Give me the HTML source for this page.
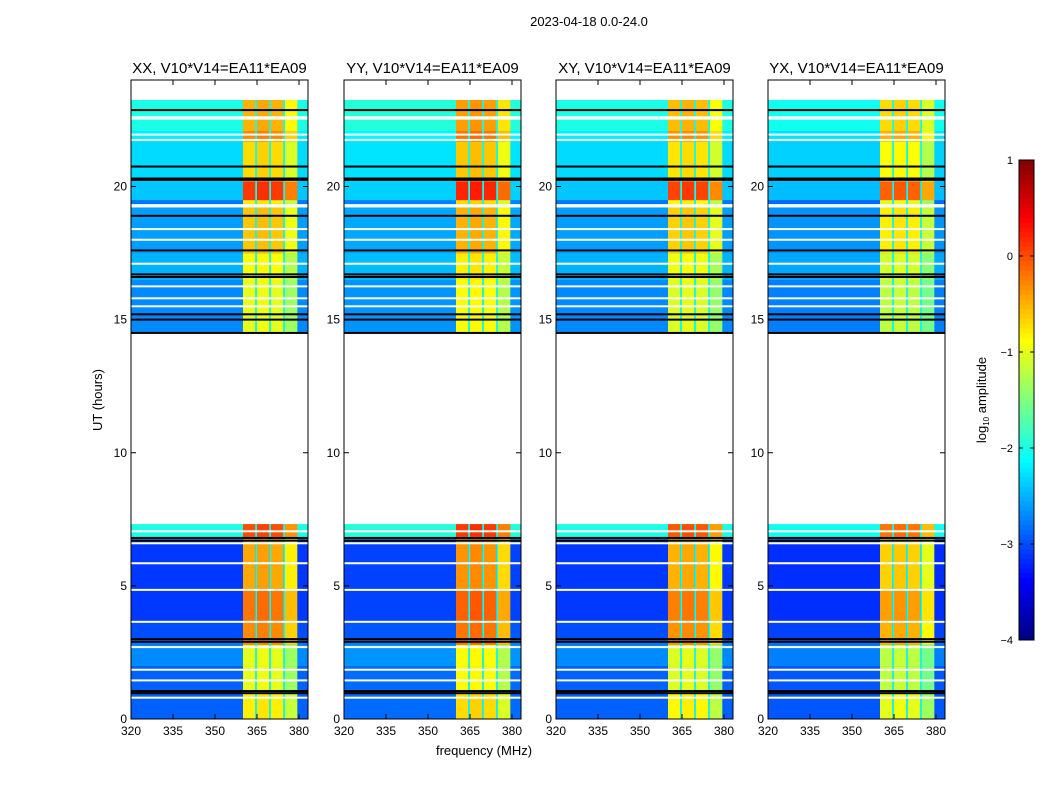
<!DOCTYPE html>
<html><head><meta charset="utf-8"><style>
html,body{margin:0;padding:0;background:#fff;}
body{width:1050px;height:800px;overflow:hidden;font-family:"Liberation Sans",sans-serif;}
</style></head>
<body>
<svg id="fig" width="1050" height="800" xmlns="http://www.w3.org/2000/svg" font-family="Liberation Sans, sans-serif">
<text x="589" y="26" font-size="13" text-anchor="middle">2023-04-18 0.0-24.0</text>
<text x="102" y="400" font-size="13" text-anchor="middle" transform="rotate(-90 102 400)">UT (hours)</text>
<text x="484" y="755" font-size="13" text-anchor="middle">frequency (MHz)</text>
<g id="panels"></g>
<g id="cbar"></g>
<text x="986" y="400" font-size="13" text-anchor="middle" transform="rotate(-90 986 400)">log<tspan font-size="8" dy="3">10</tspan><tspan dy="-3"> amplitude</tspan></text>
</svg>
<script>
// ---- data ----
const panelTitles = ["XX, V10*V14=EA11*EA09","YY, V10*V14=EA11*EA09","XY, V10*V14=EA11*EA09","YX, V10*V14=EA11*EA09"];
const panelBandOffset = [0, 0.1, -0.05, -0.2];
const panelBgOffset = [0, 0.05, 0, -0.05];
// time segments (hours)
const segStart = [0.0, 0.97, 2.0, 2.8, 3.0, 3.65, 4.85, 6.7, 6.85, 14.5, 16.5, 17.5, 19.35, 19.5, 20.2, 20.35, 21.7, 22.1];
const segEnd   = [0.97, 2.0, 2.8, 3.0, 3.65, 4.85, 6.7, 6.85, 7.32, 16.5, 17.5, 19.35, 19.5, 20.2, 20.35, 21.7, 22.1, 23.25];
const segBg    = [-2.9, -2.9, -2.7, -2.8, -3.0, -3.1, -3.1, -2.6, -2.0, -2.7, -2.5, -2.6, -2.8, -2.4, -2.4, -2.3, -2.2, -2.0];
const segBand  = [-0.8, -1.0, -1.0, -0.3, -0.3, -0.2, -0.45, -0.6, 0.0, -1.0, -0.9, -0.6, -0.8, 0.1, -0.4, -0.7, -0.3, -0.5];
// frequency columns (MHz)
const bandStart = [360.0, 365.0, 370.0, 375.0];
const bandEnd   = [364.4, 369.4, 374.4, 379.4];
const bandOffset = [0, 0.05, 0.0, -0.35];
const gapLevel = -2.1;
// flagged rows
const blackLines = [0.97, 1.05, 2.9, 3.0, 6.7, 6.8, 14.5, 15.0, 15.2, 16.6, 16.7, 17.6, 18.9, 20.25, 20.3, 20.75, 22.87];
const whiteLines = [0.8, 1.45, 1.85, 2.7, 3.65, 4.85, 5.85, 6.6, 7.05, 15.5, 15.8, 16.25, 17.1, 18.0, 18.4, 19.3, 19.25, 21.75, 21.95, 22.55, 22.6];
const xTicks = [320, 335, 350, 365, 380];
const yTicks = [0, 5, 10, 15, 20];
const cbTicks = [1, 0, -1, -2, -3, -4];

// ---- layout ----
const panelLeft = [131, 344, 556, 768];
const PW = 177, TOP = 80, BOT = 719;
const FMIN = 320, FMAX = 320 + PW / 2.8, TMIN = 0, TMAX = 24;
const VMIN = -4, VMAX = 1;
const NS = "http://www.w3.org/2000/svg";
function jet(v){
  let t = (v - VMIN) / (VMAX - VMIN); t = Math.max(0, Math.min(1, t));
  const c = x => Math.round(255 * Math.max(0, Math.min(1, x)));
  const r = c(1.5 - Math.abs(4 * t - 3)), g = c(1.5 - Math.abs(4 * t - 2)), b = c(1.5 - Math.abs(4 * t - 1));
  return `rgb(${r},${g},${b})`;
}
function el(tag, attrs, parent){ const e = document.createElementNS(NS, tag); for (const k in attrs) e.setAttribute(k, attrs[k]); parent.appendChild(e); return e; }
const panels = document.getElementById('panels');
panelLeft.forEach((L, p) => {
  const xs = f => L + (f - FMIN) / (FMAX - FMIN) * PW;
  const ys = t => BOT - (t - TMIN) / (TMAX - TMIN) * (BOT - TOP);
  const g = el('g', {}, panels);
  
  
  el('rect', {x: L, y: TOP, width: PW, height: BOT - TOP, fill: '#fff'}, g);
  for (let i = 0; i < segStart.length; i++) {
    const y0 = ys(segEnd[i]), y1 = ys(segStart[i]);
    const bg = el('rect', {x: L, y: y0, width: PW, height: y1 - y0 + 0.3, fill: jet(segBg[i] + panelBgOffset[p])}, g);
    
    
    for (let b = 0; b < bandStart.length; b++) {
      const c = el('rect', {x: xs(bandStart[b]), y: y0, width: xs(bandEnd[b]) - xs(bandStart[b]), height: y1 - y0 + 0.3, fill: jet(segBand[i] + bandOffset[b] + panelBandOffset[p])}, g);
      
      
      if (b < bandStart.length - 1) {
        const gp = el('rect', {x: xs(bandEnd[b]), y: y0, width: xs(bandStart[b+1]) - xs(bandEnd[b]), height: y1 - y0 + 0.3, fill: jet(gapLevel)}, g);
        
        
      }
    }
  }
  whiteLines.forEach(t => { const l = el('rect', {x: L, y: ys(t) - 1, width: PW, height: 2, fill: '#fff'}, g);
      });
  blackLines.forEach(t => { const l = el('rect', {x: L, y: ys(t) - 1, width: PW, height: 2, fill: '#000'}, g);
      });
  el('rect', {x: L, y: TOP, width: PW, height: BOT - TOP, fill: 'none', stroke: '#000', 'stroke-width': 1}, g);
  xTicks.forEach(f => {
    const x = xs(f);
    el('line', {x1: x, x2: x, y1: BOT, y2: BOT - 5, stroke: '#000'}, g);
    el('line', {x1: x, x2: x, y1: TOP, y2: TOP + 5, stroke: '#000'}, g);
    const t = el('text', {x: x, y: BOT + 16, 'font-size': 12, 'text-anchor': 'middle'}, g);
    t.textContent = f;
     
  });
  yTicks.forEach(v => {
    const y = ys(v);
    el('line', {x1: L, x2: L + 5, y1: y, y2: y, stroke: '#000'}, g);
    el('line', {x1: L + PW, x2: L + PW - 5, y1: y, y2: y, stroke: '#000'}, g);
    const t = el('text', {x: L - 4, y: y + 4, 'font-size': 12, 'text-anchor': 'end'}, g);
    t.textContent = v;
     
  });
  const tt = el('text', {x: L + PW / 2, y: 73, 'font-size': 15, 'text-anchor': 'middle'}, g);
  tt.textContent = panelTitles[p];
   
});
// colorbar
const cb = document.getElementById('cbar');
const CX = 1019, CW = 15, CT = 160, CB = 640;
const cys = v => CB - (v - VMIN) / (VMAX - VMIN) * (CB - CT);
for (let i = 0; i < 100; i++) {
  const v0 = VMIN + (VMAX - VMIN) * i / 100, v1 = VMIN + (VMAX - VMIN) * (i + 1) / 100;
  el('rect', {x: CX, y: cys(v1), width: CW, height: cys(v0) - cys(v1) + 0.5, fill: jet((v0 + v1) / 2)}, cb);
}
el('rect', {x: CX, y: CT, width: CW, height: CB - CT, fill: 'none', stroke: '#000'}, cb);
cbTicks.forEach(v => {
  const y = cys(v);
  el('line', {x1: CX, x2: CX + 4, y1: y, y2: y, stroke: '#000'}, cb);
  el('line', {x1: CX + CW, x2: CX + CW - 4, y1: y, y2: y, stroke: '#000'}, cb);
  const t = el('text', {x: 1013, y: y + 4, 'font-size': 11, 'text-anchor': 'end'}, cb);
  t.textContent = v < 0 ? '\u2212' + (-v) : v;
   
});
</script>
</body></html>
